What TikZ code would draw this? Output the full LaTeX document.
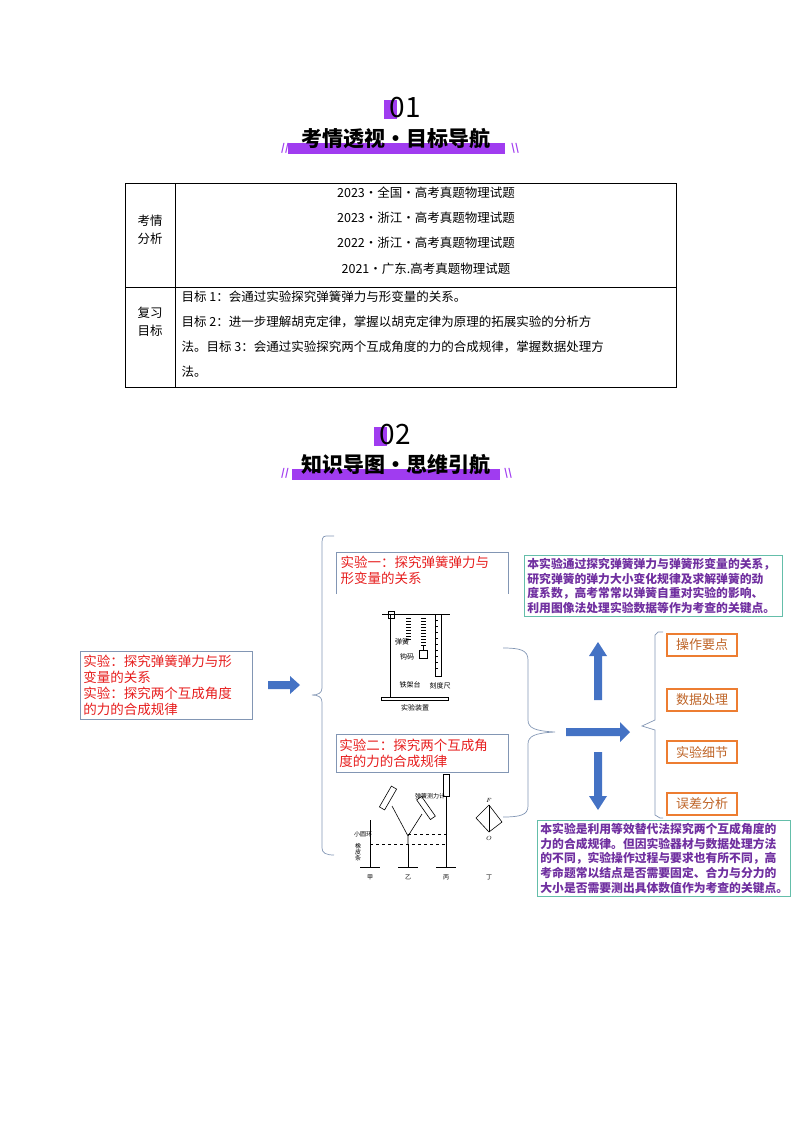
\documentclass[tikz,border=0pt]{standalone}
\usepackage{fontspec}
\setmainfont{Noto Sans CJK SC}
\usetikzlibrary{arrows.meta}
\definecolor{purp}{RGB}{160,60,240}
\definecolor{txtpurp}{RGB}{112,48,160}
\definecolor{redt}{RGB}{230,30,30}
\definecolor{frame}{RGB}{130,150,180}
\definecolor{teal}{RGB}{100,190,170}
\definecolor{orng}{RGB}{237,125,49}
\definecolor{blu}{RGB}{68,114,196}
\tikzset{
 redbox/.style={draw=frame,line width=0.8pt,text=redt,font=\fontsize{13.5}{16}\selectfont,align=left,inner sep=3pt},
 orbox/.style={draw=orng,line width=1.2pt,text=orng!80!black,font=\fontsize{13}{14}\selectfont,minimum width=70pt,minimum height=22pt,inner sep=1pt},
 tealbox/.style={draw=teal,line width=0.8pt,text=txtpurp,font=\bfseries\fontsize{11.8}{14.6}\selectfont,align=left,inner sep=3pt},
 brc/.style={draw=frame,line width=0.7pt},
 tcell/.style={font=\fontsize{12.5}{14}\selectfont},
 fig/.style={line width=0.6pt},
 tiny/.style={font=\fontsize{6}{6}\selectfont,inner sep=0.5pt}
}
\begin{document}
\begin{tikzpicture}[x=1pt,y=-1pt]
\useasboundingbox (0,0) rectangle (800,1132);
% header 01
\fill[purp] (384,100) rectangle (397,119);
\node (n01) at (405,108) {\fontsize{28}{28}\selectfont 01};
\fill[purp] (288,143) rectangle (505,154);
\node (t1) at (396,139) {\bfseries\fontsize{21}{21}\selectfont 考情透视·目标导航};
\node[text=purp] (s1a) at (285,148) {\bfseries\itshape //};
\node[text=purp] (s1b) at (515,148) {\bfseries\itshape \textbackslash\textbackslash};
% table
\draw[line width=0.7pt] (125,183) rectangle (676,387);
\draw[line width=0.7pt] (125,287) -- (676,287);
\draw[line width=0.7pt] (175,183) -- (175,387);
\node[tcell,align=center] (c1) at (150,230) {考情\\[4pt]分析};
\node[tcell,align=center] (c2) at (150,322) {复习\\[4pt]目标};
\node[tcell] (r1) at (426,193) {2023·全国·高考真题物理试题};
\node[tcell] (r2) at (426,218) {2023·浙江·高考真题物理试题};
\node[tcell] (r3) at (426,243) {2022·浙江·高考真题物理试题};
\node[tcell] (r4) at (426,269) {2021·广东.高考真题物理试题};
\node[tcell,anchor=west] (g1) at (178,297) {目标 1：会通过实验探究弹簧弹力与形变量的关系。};
\node[tcell,anchor=west] (g2) at (178,322) {目标 2：进一步理解胡克定律，掌握以胡克定律为原理的拓展实验的分析方};
\node[tcell,anchor=west] (g3) at (178,347) {法。目标 3：会通过实验探究两个互成角度的力的合成规律，掌握数据处理方};
\node[tcell,anchor=west] (g4) at (178,372) {法。};
% header 02
\fill[purp] (374,427) rectangle (387,446);
\node (n02) at (395,435) {\fontsize{28}{28}\selectfont 02};
\fill[purp] (292,469) rectangle (500,480);
\node (t2) at (396,465) {\bfseries\fontsize{21}{21}\selectfont 知识导图·思维引航};
\node[text=purp] (s2a) at (285,473) {\bfseries\itshape //};
\node[text=purp] (s2b) at (508,473) {\bfseries\itshape \textbackslash\textbackslash};
% mind map
\node[redbox,text width=166pt,minimum height=68pt,anchor=north west] (L) at (80,651) {实验：探究弹簧弹力与形\\变量的关系\\实验：探究两个互成角度\\的力的合成规律};
\fill[blu] (268,681) -- (290,681) -- (290,676) -- (300,685) -- (290,694) -- (290,689) -- (268,689) -- cycle;
% big brace
\draw[brc] (334,536) -- (326,536) .. controls (322,536) and (322,540) .. (322,545) -- (322,688) .. controls (322,693) and (318,695) .. (312,695) .. controls (318,695) and (322,697) .. (322,702) -- (322,848) .. controls (322,853) and (326,855) .. (334,855);
% box 1 (open bottom)
\draw[frame,line width=0.8pt] (336,594) -- (336,552) -- (508,552) -- (508,594);
\node[text=redt,font=\fontsize{13.5}{16}\selectfont,align=left,anchor=north west] (B1) at (337,553) {实验一：探究弹簧弹力与\\形变量的关系};
% figure 1
\begin{scope}[fig]
\draw (382,614) -- (450,614);
\draw (388,611) rectangle (394,618);
\draw (390,614) -- (390,697);
\draw (381,697) rectangle (448,700);
\foreach \yy in {618,621,...,640} \draw (406,\yy) -- (411,\yy);
\foreach \yy in {618,621,...,645} \draw (421,\yy) -- (426,\yy);
\draw (423,645) -- (423,650); \draw (419,650) rectangle (427,658);
\draw (435,614) rectangle (441,676);
\foreach \yy in {620,626,...,670} \draw (435,\yy) -- (438,\yy);
\end{scope}
\node[tiny,font=\fontsize{7}{7}\selectfont] (f1a) at (402,642) {弹簧};
\node[tiny,font=\fontsize{7}{7}\selectfont] (f1b) at (407,657) {钩码};
\node[tiny,font=\fontsize{7}{7}\selectfont] (f1c) at (410,685) {铁架台};
\node[tiny,font=\fontsize{7}{7}\selectfont] (f1d) at (440,686) {刻度尺};
\node[tiny,font=\fontsize{7}{7}\selectfont] (f1e) at (415,708) {实验装置};
% box 2
\node[redbox,text width=166pt,minimum height=38pt,anchor=north west] (B2) at (336,734) {实验二：探究两个互成角\\度的力的合成规律};
% figure 2
\begin{scope}[fig]
\foreach \gx in {370,408,446} {\draw (\gx-10,867) -- (\gx+10,867); \draw (\gx,867) -- (\gx,845);}
\draw (370,845) -- (370,820);
\draw[dashed] (370,844) -- (446,844);
\draw[dashed] (408,834) -- (446,834);
\draw (408,845) -- (408,836) -- (392,806); \draw (408,836) -- (422,814);
\draw[rotate around={-30:(388,798)}] (385,786) rectangle (391,810);
\draw[rotate around={35:(426,808)}] (423,796) rectangle (429,820);
\draw (446,845) -- (446,796); \draw (443,774) rectangle (449,796);
\draw (489,805) -- (489,832);
\draw (489,805) -- (502,822) -- (489,832) -- (476,818) -- cycle;
\end{scope}
\node[tiny] (f2a) at (430,796) {弹簧测力计};
\node[tiny] (f2b) at (363,834) {小圆环};
\node[tiny,align=center] (f2c) at (358,852) {橡\\皮\\条};
\node[tiny] (f2d) at (370,877) {甲};
\node[tiny] (f2e) at (408,877) {乙};
\node[tiny] (f2f) at (446,877) {丙};
\node[tiny] (f2g) at (489,877) {丁};
\node[tiny] (f2h) at (489,800) {$F$};
\node[tiny] (f2i) at (489,838) {$O$};
% middle brace
\draw[brc] (503,648) .. controls (520,648) and (528,650) .. (528,660) -- (528,720) .. controls (528,728) and (535,731) .. (555,732) .. controls (535,733) and (528,736) .. (528,744) -- (528,806) .. controls (528,815) and (520,817) .. (503,817);
% arrows
\fill[blu] (566,728) -- (620,728) -- (620,722) -- (630,732) -- (620,742) -- (620,736) -- (566,736) -- cycle;
\fill[blu] (594,700) -- (594,656) -- (589,656) -- (598,642) -- (607,656) -- (602,656) -- (602,700) -- cycle;
\fill[blu] (594,752) -- (594,796) -- (589,796) -- (598,810) -- (607,796) -- (602,796) -- (602,752) -- cycle;
% right brace
\draw[brc] (663,632) -- (658,632) -- (655,635) -- (655,720) -- (642,726) -- (655,730) -- (655,815) -- (660,818) -- (663,818);
\node[orbox] (o1) at (702,645) {操作要点};
\node[orbox] (o2) at (702,700) {数据处理};
\node[orbox] (o3) at (702,752) {实验细节};
\node[orbox] (o4) at (702,804) {误差分析};
\node[tealbox,text width=252pt,anchor=north west] (T1) at (524,555) {本实验通过探究弹簧弹力与弹簧形变量的关系，\\研究弹簧的弹力大小变化规律及求解弹簧的劲\\度系数，高考常常以弹簧自重对实验的影响、\\利用图像法处理实验数据等作为考查的关键点。};
\node[tealbox,text width=247pt,anchor=north west] (T2) at (537,820) {本实验是利用等效替代法探究两个互成角度的\\力的合成规律。但因实验器材与数据处理方法\\的不同，实验操作过程与要求也有所不同，高\\考命题常以结点是否需要固定、合力与分力的\\大小是否需要测出具体数值作为考查的关键点。};
\end{tikzpicture}
\end{document}
